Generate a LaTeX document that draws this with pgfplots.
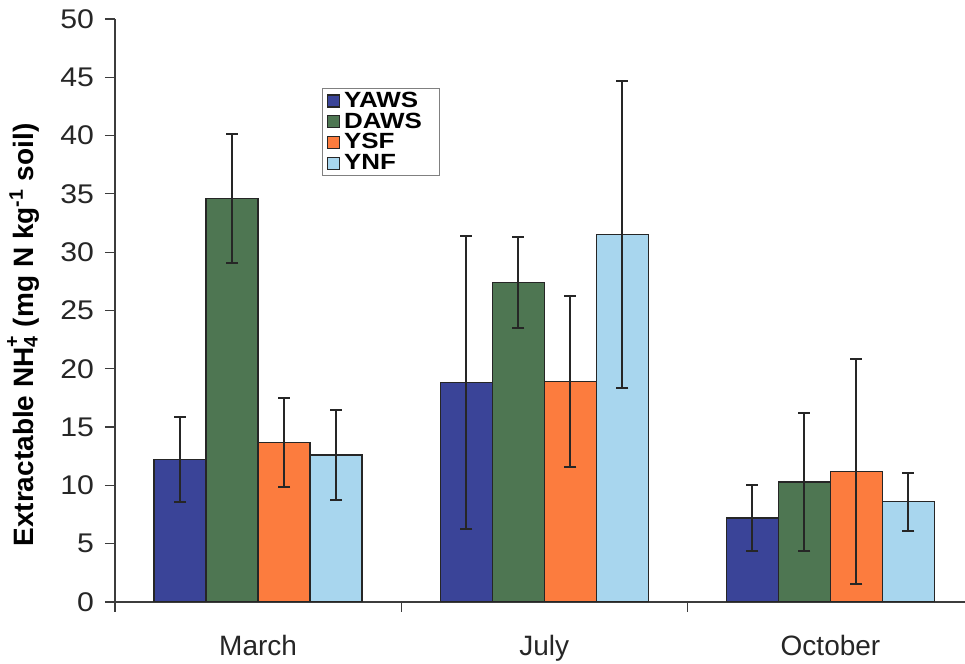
\documentclass[border=0pt]{standalone}
\usepackage{pgfplots}
\pgfplotsset{compat=1.18}
\usepackage{fontspec}
\setmainfont{Liberation Sans}
\newfontfamily\widefont[FakeStretch=1.12]{Liberation Sans}
\newfontfamily\legfont[FakeStretch=1.18]{Liberation Sans}
\definecolor{cYAWS}{RGB}{58,68,152}
\definecolor{cDAWS}{RGB}{78,118,82}
\definecolor{cYSF}{RGB}{252,124,62}
\definecolor{cYNF}{RGB}{168,214,238}
\definecolor{axgray}{RGB}{60,60,60}
\begin{document}
\begin{tikzpicture}
\useasboundingbox (0,0) rectangle (482.5pt,332pt);
\begin{axis}[
  at={(57.5pt,31pt)}, anchor=south west,
  scale only axis, width=425pt, height=291.5pt,
  xmin=-0.5, xmax=2.47, ymin=0, ymax=50,
  axis x line*=bottom, axis y line*=left,
  axis line style={axgray, line width=0.75pt},
  ytick={0,5,...,50},
  xtick={0,1,2}, xticklabels={March,July,October},
  minor xtick={-0.5,0.5,1.5},
  major x tick style={draw=none},
  tick style={axgray, line width=0.6pt},
  tick align=outside, major tick length=5pt, minor tick length=5pt,
  /pgf/number format/assume math mode=true,
  xticklabel style={font=\fontsize{14}{16}\selectfont, text=black!85, yshift=-8pt},
  yticklabel style={font=\widefont\fontsize{13.5}{16}\selectfont, text=black!85, xshift=-2pt},
  ylabel={\textbf{Extractable NH\rlap{\textsubscript{4}}\raisebox{0.3ex}{\textsuperscript{+}} (mg N kg\textsuperscript{-1} soil)}},
  ylabel style={font=\fontsize{14}{16}\selectfont, at={(axis description cs:-0.108,0.458)}, anchor=center},
  ybar=0pt, bar width=26pt,
  every axis plot/.append style={draw=black!85, line width=0.7pt},
  error bars/error bar style={line width=1pt, color=black!85},
  error bars/error mark options={rotate=90, mark size=3pt, line width=1pt, color=black!85},
  legend style={at={(axis description cs:0.244,0.882)}, anchor=north west,
    draw=gray, line width=0.5pt, font=\legfont\fontsize{11}{11.5}\selectfont\bfseries,
    inner xsep=2pt, inner ysep=1.2pt, row sep=0pt, cells={anchor=west},
    nodes={inner ysep=0.6pt, inner xsep=2pt},
    /tikz/every odd column/.append style={column sep=0pt}},
  legend image code/.code={\draw[#1, line width=0.6pt] (0pt,-3pt) rectangle (6pt,3pt);},
]
\addplot[fill=cYAWS, error bars/.cd, y dir=both, y explicit] coordinates {(0,12.2) +- (0,3.65) (1,18.8) +- (0,12.55) (2,7.2) +- (0,2.8)};
\addplot[fill=cDAWS, error bars/.cd, y dir=both, y explicit] coordinates {(0,34.6) +- (0,5.5) (1,27.4) +- (0,3.9) (2,10.3) +- (0,5.95)};
\addplot[fill=cYSF, error bars/.cd, y dir=both, y explicit] coordinates {(0,13.7) +- (0,3.8) (1,18.9) +- (0,7.35) (2,11.2) +- (0,9.65)};
\addplot[fill=cYNF, error bars/.cd, y dir=both, y explicit] coordinates {(0,12.6) +- (0,3.85) (1,31.5) +- (0,13.15) (2,8.6) +- (0,2.5)};
\legend{YAWS\kern5pt\null,DAWS\kern5pt\null,YSF,YNF}
\end{axis}
\end{tikzpicture}
\end{document}
